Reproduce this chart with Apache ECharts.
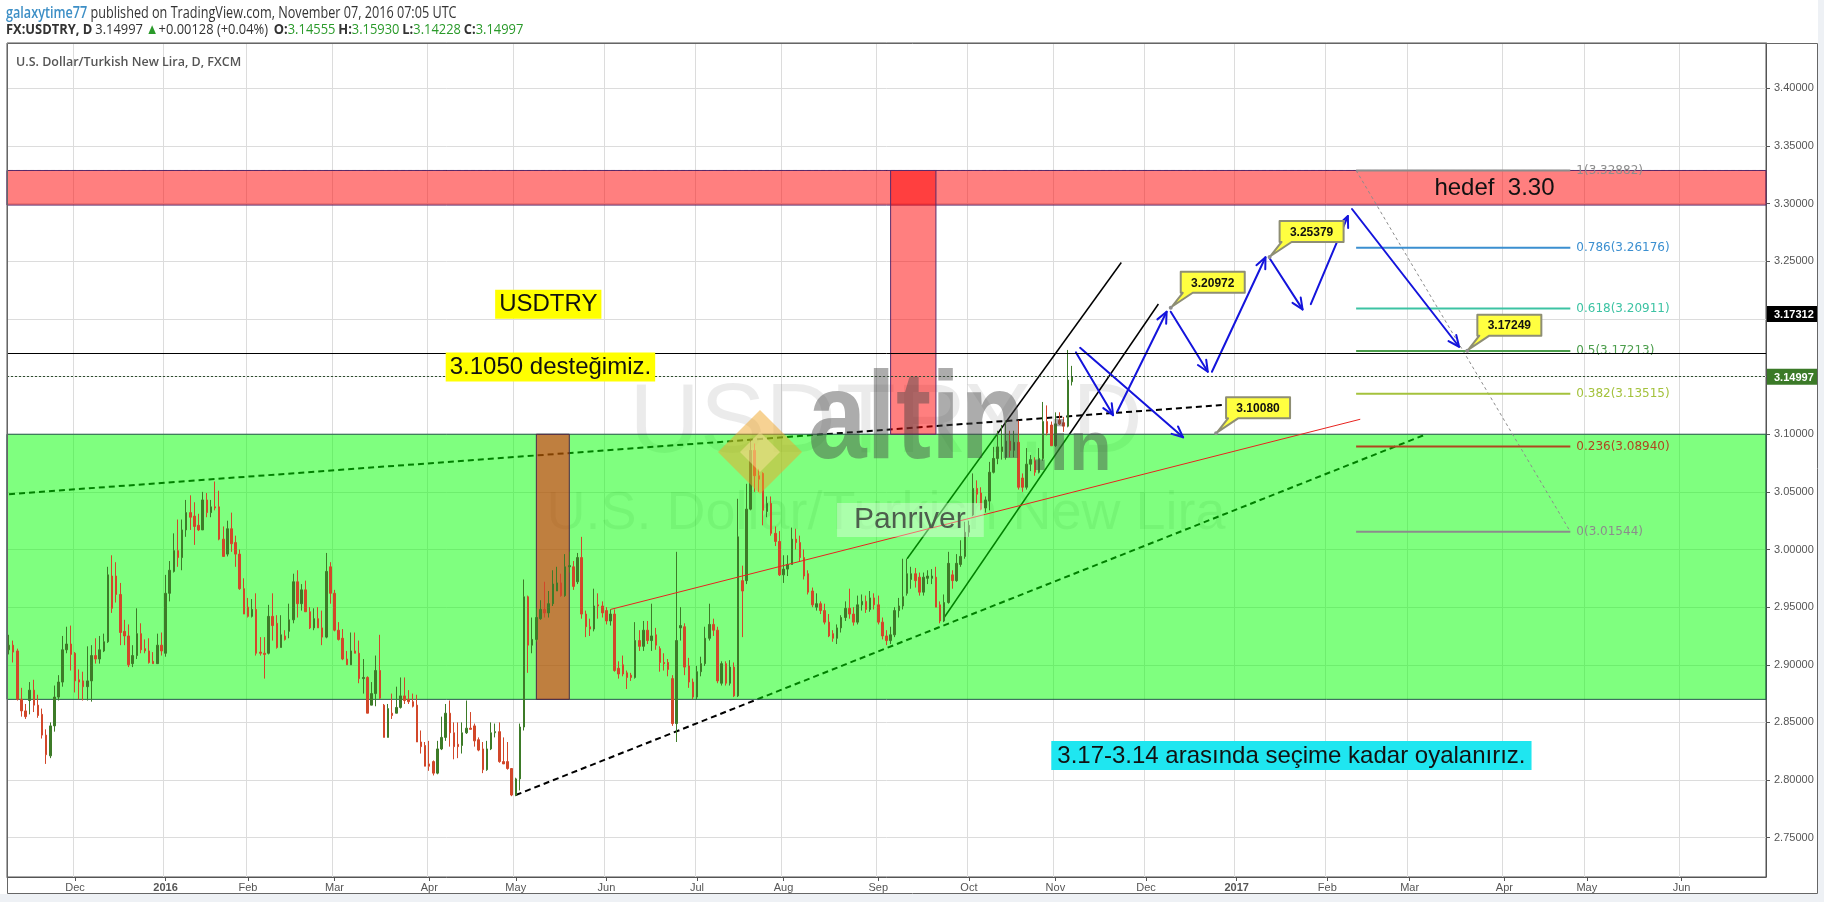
<!DOCTYPE html>
<html lang="tr">
<head>
<meta charset="utf-8">
<title>FX:USDTRY, D</title>
<script src="https://cdn.jsdelivr.net/npm/echarts@6/dist/echarts.min.js"></script>
<style>
  html, body { margin: 0; padding: 0; background: #ffffff; }
  #chart { width: 1824px; height: 902px; }
</style>
</head>
<body>
<div id="chart"></div>
<script>
// ---------- trading calendar: FXCM daily sessions (weekdays, two closed days) ----------
const FIRST_SESSION = '2015-11-09';
const LAST_SESSION = '2017-06-29';
const CLOSED_SESSIONS = ['2015-12-25', '2016-01-01'];
const MONTHS = ['Jan', 'Feb', 'Mar', 'Apr', 'May', 'Jun', 'Jul', 'Aug', 'Sep', 'Oct', 'Nov', 'Dec'];

// ---------- FX:USDTRY daily candles, one value per session starting 2015-11-09 ----------
const opens = [
  2.913, 2.917, 2.912, 2.870, 2.860, 2.869, 2.878, 2.865, 2.857, 2.839, 2.821, 2.847, 2.872, 2.885, 2.913, 2.918,
  2.910, 2.887, 2.886, 2.881, 2.886, 2.908, 2.905, 2.912, 2.920, 2.977, 2.977, 2.961, 2.929, 2.925, 2.901, 2.908,
  2.927, 2.914, 2.912, 2.903, 2.901, 2.917, 2.910, 2.962, 2.981, 2.999, 2.993, 3.017, 3.032, 3.029, 3.021, 3.017,
  3.043, 3.032, 3.037, 3.037, 3.009, 2.996, 3.018, 3.006, 2.996, 2.966, 2.950, 2.942, 2.948, 2.911, 2.910, 2.910,
  2.942, 2.936, 2.915, 2.925, 2.929, 2.939, 2.972, 2.953, 2.965, 2.946, 2.932, 2.940, 2.932, 2.924, 2.985, 2.962,
  2.930, 2.923, 2.905, 2.900, 2.912, 2.910, 2.888, 2.889, 2.865, 2.875, 2.895, 2.865, 2.837, 2.858, 2.858, 2.863,
  2.873, 2.870, 2.868, 2.865, 2.833, 2.830, 2.814, 2.816, 2.806, 2.827, 2.837, 2.858, 2.841, 2.831, 2.830, 2.841,
  2.845, 2.847, 2.835, 2.827, 2.809, 2.827, 2.841, 2.842, 2.816, 2.816, 2.810, 2.787, 2.801, 2.846, 2.959, 2.917,
  2.922, 2.940, 2.948, 2.945, 2.953, 2.964, 2.971, 2.960, 2.985, 2.985, 2.972, 2.993, 2.944, 2.933, 2.931, 2.952,
  2.951, 2.947, 2.938, 2.944, 2.897, 2.900, 2.893, 2.891, 2.889, 2.921, 2.916, 2.930, 2.921, 2.926, 2.914, 2.902,
  2.902, 2.888, 2.849, 2.932, 2.933, 2.899, 2.885, 2.872, 2.894, 2.901, 2.923, 2.935, 2.930, 2.884, 2.901, 2.884,
  2.898, 2.873, 2.973, 2.973, 3.035, 3.086, 3.064, 3.066, 3.033, 3.040, 3.014, 3.007, 2.978, 2.983, 2.987, 3.009,
  3.006, 2.993, 2.979, 2.964, 2.950, 2.953, 2.947, 2.937, 2.927, 2.923, 2.932, 2.941, 2.949, 2.944, 2.937, 2.952,
  2.955, 2.948, 2.958, 2.952, 2.937, 2.925, 2.921, 2.926, 2.947, 2.951, 2.962, 2.974, 2.979, 2.976, 2.963, 2.975,
  2.975, 2.976, 2.952, 2.938, 2.954, 2.978, 2.973, 2.987, 2.994, 3.015, 3.030, 3.053, 3.049, 3.036, 3.042, 3.067,
  3.079, 3.085, 3.080, 3.094, 3.086, 3.093, 3.062, 3.054, 3.074, 3.077, 3.067, 3.079, 3.111, 3.108, 3.090, 3.112,
  3.110, 3.107, 3.14555
];
const closes = [
  2.917, 2.911, 2.870, 2.860, 2.855, 2.878, 2.865, 2.856, 2.839, 2.822, 2.847, 2.872, 2.885, 2.913, 2.918, 2.909,
  2.886, 2.885, 2.881, 2.886, 2.908, 2.905, 2.913, 2.920, 2.978, 2.949, 2.961, 2.928, 2.925, 2.900, 2.908, 2.927,
  2.913, 2.912, 2.902, 2.901, 2.917, 2.912, 2.962, 2.982, 2.999, 2.993, 3.017, 3.032, 3.028, 3.020, 3.017, 3.043,
  3.032, 3.037, 3.036, 3.009, 2.994, 3.018, 3.005, 2.996, 2.966, 2.944, 2.942, 2.948, 2.910, 2.910, 2.909, 2.942,
  2.934, 2.915, 2.926, 2.922, 2.939, 2.972, 2.953, 2.965, 2.946, 2.932, 2.940, 2.932, 2.924, 2.981, 2.962, 2.930,
  2.922, 2.905, 2.900, 2.912, 2.910, 2.888, 2.889, 2.858, 2.875, 2.895, 2.871, 2.837, 2.862, 2.856, 2.863, 2.873,
  2.869, 2.868, 2.864, 2.833, 2.829, 2.812, 2.812, 2.806, 2.827, 2.837, 2.858, 2.841, 2.829, 2.829, 2.841, 2.845,
  2.844, 2.834, 2.826, 2.809, 2.827, 2.841, 2.842, 2.816, 2.814, 2.810, 2.787, 2.801, 2.846, 2.959, 2.917, 2.922,
  2.941, 2.948, 2.945, 2.953, 2.970, 2.971, 2.960, 2.985, 2.986, 2.968, 2.993, 2.944, 2.933, 2.931, 2.951, 2.951,
  2.945, 2.938, 2.944, 2.895, 2.892, 2.892, 2.889, 2.889, 2.921, 2.916, 2.930, 2.921, 2.925, 2.917, 2.902, 2.901,
  2.896, 2.849, 2.921, 2.934, 2.898, 2.885, 2.872, 2.894, 2.901, 2.923, 2.935, 2.930, 2.886, 2.901, 2.884, 2.898,
  2.873, 3.011, 2.964, 3.035, 3.086, 3.064, 3.061, 3.034, 3.040, 3.014, 3.007, 2.978, 2.983, 2.987, 3.009, 3.006,
  2.993, 2.977, 2.963, 2.952, 2.953, 2.947, 2.937, 2.925, 2.923, 2.932, 2.941, 2.949, 2.944, 2.937, 2.952, 2.955,
  2.948, 2.958, 2.952, 2.937, 2.925, 2.921, 2.926, 2.947, 2.951, 2.959, 2.979, 2.979, 2.973, 2.963, 2.976, 2.977,
  2.977, 2.950, 2.938, 2.954, 2.988, 2.973, 2.988, 2.994, 3.015, 3.021, 3.053, 3.048, 3.035, 3.043, 3.067, 3.079,
  3.089, 3.089, 3.094, 3.086, 3.093, 3.054, 3.054, 3.074, 3.078, 3.067, 3.079, 3.111, 3.101, 3.090, 3.109, 3.109,
  3.107, 3.147, 3.14997
];
const lows = [
  2.909, 2.902, 2.869, 2.855, 2.853, 2.857, 2.859, 2.854, 2.836, 2.814, 2.819, 2.842, 2.869, 2.881, 2.910, 2.895,
  2.876, 2.870, 2.869, 2.869, 2.868, 2.901, 2.901, 2.911, 2.919, 2.945, 2.954, 2.917, 2.917, 2.898, 2.898, 2.905,
  2.910, 2.910, 2.901, 2.901, 2.901, 2.908, 2.907, 2.955, 2.980, 2.985, 2.982, 3.011, 3.017, 3.004, 3.016, 3.017,
  3.028, 3.028, 3.034, 3.008, 2.994, 2.994, 2.998, 2.985, 2.965, 2.944, 2.941, 2.941, 2.908, 2.908, 2.888, 2.909,
  2.921, 2.914, 2.915, 2.921, 2.923, 2.936, 2.941, 2.947, 2.946, 2.931, 2.930, 2.932, 2.917, 2.923, 2.953, 2.929,
  2.921, 2.904, 2.900, 2.900, 2.910, 2.884, 2.875, 2.858, 2.865, 2.864, 2.870, 2.837, 2.837, 2.853, 2.858, 2.862,
  2.866, 2.866, 2.863, 2.833, 2.823, 2.812, 2.808, 2.804, 2.805, 2.826, 2.834, 2.829, 2.818, 2.819, 2.823, 2.840,
  2.844, 2.829, 2.825, 2.806, 2.808, 2.826, 2.837, 2.815, 2.814, 2.809, 2.786, 2.786, 2.791, 2.843, 2.893, 2.910,
  2.920, 2.939, 2.941, 2.941, 2.951, 2.964, 2.959, 2.959, 2.980, 2.965, 2.970, 2.940, 2.924, 2.925, 2.929, 2.940,
  2.941, 2.935, 2.934, 2.894, 2.888, 2.890, 2.879, 2.886, 2.888, 2.912, 2.912, 2.918, 2.912, 2.913, 2.894, 2.895,
  2.890, 2.847, 2.833, 2.921, 2.891, 2.880, 2.870, 2.870, 2.890, 2.899, 2.921, 2.925, 2.884, 2.882, 2.882, 2.882,
  2.872, 2.872, 2.924, 2.970, 3.034, 3.050, 3.050, 3.021, 3.028, 3.012, 3.003, 2.977, 2.971, 2.977, 2.987, 3.000,
  2.990, 2.974, 2.961, 2.950, 2.947, 2.944, 2.935, 2.924, 2.920, 2.918, 2.928, 2.938, 2.940, 2.934, 2.935, 2.947,
  2.945, 2.946, 2.948, 2.935, 2.922, 2.917, 2.918, 2.924, 2.941, 2.948, 2.960, 2.966, 2.967, 2.960, 2.960, 2.970,
  2.970, 2.950, 2.936, 2.937, 2.953, 2.966, 2.972, 2.985, 2.992, 3.011, 3.029, 3.040, 3.034, 3.032, 3.034, 3.066,
  3.074, 3.078, 3.078, 3.080, 3.080, 3.052, 3.050, 3.052, 3.068, 3.064, 3.066, 3.077, 3.099, 3.090, 3.089, 3.108,
  3.102, 3.106, 3.14228
];
const highs = [
  2.926, 2.921, 2.914, 2.880, 2.866, 2.885, 2.887, 2.874, 2.862, 2.844, 2.850, 2.882, 2.891, 2.925, 2.933, 2.934,
  2.911, 2.896, 2.894, 2.916, 2.917, 2.923, 2.925, 2.927, 2.985, 2.995, 2.989, 2.971, 2.939, 2.935, 2.917, 2.949,
  2.936, 2.922, 2.923, 2.911, 2.927, 2.928, 2.978, 2.990, 3.014, 3.026, 3.026, 3.043, 3.047, 3.041, 3.031, 3.050,
  3.049, 3.043, 3.059, 3.051, 3.020, 3.025, 3.032, 3.012, 3.000, 2.975, 2.958, 2.957, 2.962, 2.924, 2.924, 2.952,
  2.962, 2.943, 2.943, 2.930, 2.953, 2.979, 2.982, 2.970, 2.973, 2.950, 2.949, 2.950, 2.947, 2.997, 2.989, 2.965,
  2.937, 2.931, 2.912, 2.928, 2.928, 2.921, 2.905, 2.890, 2.885, 2.908, 2.926, 2.866, 2.866, 2.875, 2.881, 2.889,
  2.889, 2.878, 2.875, 2.874, 2.843, 2.833, 2.834, 2.817, 2.834, 2.855, 2.866, 2.869, 2.850, 2.850, 2.850, 2.869,
  2.859, 2.849, 2.837, 2.833, 2.834, 2.850, 2.849, 2.850, 2.837, 2.833, 2.810, 2.802, 2.849, 2.974, 2.960, 2.941,
  2.949, 2.956, 2.972, 2.964, 2.982, 2.985, 2.979, 2.996, 2.998, 2.990, 2.997, 3.011, 2.947, 2.940, 2.966, 2.962,
  2.955, 2.950, 2.948, 2.948, 2.903, 2.908, 2.895, 2.893, 2.937, 2.930, 2.938, 2.938, 2.953, 2.932, 2.916, 2.910,
  2.905, 2.891, 2.998, 2.950, 2.936, 2.906, 2.888, 2.899, 2.907, 2.933, 2.953, 2.940, 2.933, 2.903, 2.903, 2.904,
  2.902, 3.044, 2.986, 3.057, 3.096, 3.092, 3.070, 3.067, 3.046, 3.046, 3.020, 3.016, 2.995, 2.995, 3.019, 3.018,
  3.012, 3.000, 2.982, 2.967, 2.962, 2.955, 2.953, 2.944, 2.930, 2.935, 2.943, 2.955, 2.966, 2.950, 2.960, 2.961,
  2.960, 2.964, 2.962, 2.960, 2.941, 2.930, 2.933, 2.950, 2.958, 2.992, 2.992, 2.985, 2.984, 2.980, 2.980, 2.982,
  2.983, 2.985, 2.955, 2.961, 2.998, 2.982, 2.996, 3.008, 3.024, 3.025, 3.066, 3.060, 3.054, 3.046, 3.076, 3.089,
  3.103, 3.108, 3.112, 3.103, 3.103, 3.112, 3.066, 3.088, 3.082, 3.080, 3.088, 3.128, 3.125, 3.111, 3.119, 3.119,
  3.115, 3.17312, 3.15930
];

// ---------- price scale of the pane ----------
const PRICE_MIN = 2.7159;
const PRICE_MAX = 3.4394;
const LAST_PRICE = 3.14997;
const HIGH_LINE = 3.17312;

// ---------- drawings: boxes [first session, last session, low price, high price] ----------
const targetBand = ['2015-11-09', '2017-06-29', 3.2988, 3.3288];
const rangeBand = ['2015-11-09', '2017-06-29', 2.8700, 3.1000];
const septemberBox = ['2016-09-06', '2016-09-21', 3.1000, 3.3288];
const mayBox = ['2016-05-09', '2016-05-19', 2.8700, 3.1000];

// ---------- drawings: trend lines [[session, price], [session, price]] ----------
const upperTrend = [['2015-11-09', 3.048], ['2016-12-30', 3.126]];
const lowerTrend = [['2016-05-02', 2.787], ['2017-03-07', 3.100]];
const channelTop = [['2016-09-12', 2.992], ['2016-11-23', 3.249]];
const channelBottom = [['2016-09-23', 2.941], ['2016-12-06', 3.213]];
const targetTop = [['2015-11-09', 3.3288], ['2017-06-29', 3.3288]];
const juneTrend = [['2016-06-02', 2.948], ['2017-02-13', 3.113]];

// ---------- drawings: projected path, arrows [from session, price, to session, price] ----------
const pathArrows = [
  ['2016-11-09', 3.1750, '2016-12-14', 3.0973],
  ['2016-11-08', 3.1710, '2016-11-21', 3.1166],
  ['2016-11-22', 3.1195, '2016-12-08', 3.2063],
  ['2016-12-09', 3.2063, '2016-12-22', 3.1542],
  ['2016-12-23', 3.1542, '2017-01-11', 3.2535],
  ['2017-01-12', 3.2526, '2017-01-24', 3.2083],
  ['2017-01-26', 3.2129, '2017-02-08', 3.2893],
  ['2017-02-09', 3.2954, '2017-03-17', 3.1759]
];

// ---------- drawings: price callouts [session, price] ----------
const callouts = [
  ['2016-12-09', 3.20972],
  ['2017-01-12', 3.25379],
  ['2016-12-26', 3.10080],
  ['2017-03-21', 3.17249]
];

// ---------- drawings: fibonacci retracement ----------
const FIB_FROM = '2017-02-10';
const FIB_TO = '2017-04-25';
const fibLevels = [1, 0.786, 0.618, 0.5, 0.382, 0.236, 0];
const fibPrices = [3.32882, 3.26176, 3.20911, 3.17213, 3.13515, 3.08940, 3.01544];

// ---------- drawings: text notes [session, price] ----------
const noteTexts = ['USDTRY', '3.1050 desteğimiz.', 'Panriver', 'hedef  3.30', '3.17-3.14 arasında seçime kadar oyalanırız.'];
const noteAnchors = [
  ['2016-04-25', 3.2254],
  ['2016-04-07', 3.1709],
  ['2016-08-18', 3.0403],
  ['2017-03-09', 3.3240],
  ['2016-10-31', 2.8338]
];

// ---------- styling ----------
const UP = '#3d7b28';
const DOWN = '#d2472a';
const AXIS_FONT = '"Liberation Sans", Arial, sans-serif';
const UI_FONT = '"Open Sans", "Liberation Sans", Arial, sans-serif';
const fibColors = ['#8c8c8c', '#3b8fd0', '#3cc3a3', '#4c9e4c', '#a4c23c', '#b0461f', '#8c8c8c'];
const noteStyles = [
  { font: '24px ' + AXIS_FONT, fill: '#111', bg: '#ffff00', pad: [3, 4, 2, 4] },
  { font: '24px ' + AXIS_FONT, fill: '#111', bg: '#ffff00', pad: [3, 4, 2, 4] },
  { font: '30px ' + AXIS_FONT, fill: '#4d5e4d', bg: 'rgba(255,255,255,0.35)', pad: [2, 18, 2, 17] },
  { font: '24px ' + AXIS_FONT, fill: '#111', bg: null, pad: 0 },
  { font: '24px ' + AXIS_FONT, fill: '#111', bg: '#1fe6f0', pad: [3, 6, 2, 6] }
];
const TAG_COLORS = ['#000000', '#3b7a28'];
const TAG_SHIFT = [-36, 0];

// ---------- derived ----------
const dates = (function () {
  const out = [];
  const d = new Date(FIRST_SESSION + 'T00:00:00Z');
  const end = new Date(LAST_SESSION + 'T00:00:00Z');
  while (d <= end) {
    const wd = d.getUTCDay();
    const s = d.toISOString().slice(0, 10);
    if (wd !== 0 && wd !== 6 && CLOSED_SESSIONS.indexOf(s) < 0) out.push(s);
    d.setUTCDate(d.getUTCDate() + 1);
  }
  return out;
})();
const bar = s => dates.indexOf(s);
const isMonthStart = i => i > 0 && dates[i].slice(0, 7) !== dates[i - 1].slice(0, 7);
const candles = opens.map((o, i) => [o, closes[i], lows[i], highs[i]]);
const line = pts => pts.map(p => [bar(p[0]), p[1]]);
const boxItem = b => [bar(b[0]), b[2], bar(b[1]), b[3]];

function boxSeries(name, boxes, fill, stroke, fullWidth) {
  return {
    type: 'custom', name, z: 2, silent: true, clip: false,
    data: boxes.map(boxItem),
    encode: { x: [0, 2], y: [1, 3] },
    renderItem(params, api) {
      const a = api.coord([api.value(0), api.value(3)]);
      const b = api.coord([api.value(2), api.value(1)]);
      let x1 = a[0], x2 = b[0];
      if (fullWidth) {
        x1 = params.coordSys.x;
        x2 = params.coordSys.x + params.coordSys.width;
      }
      return {
        type: 'rect',
        shape: { x: x1, y: a[1], width: x2 - x1, height: b[1] - a[1] },
        style: { fill, stroke, lineWidth: 1 }
      };
    }
  };
}

function lineSeries(name, pts, color, width, dash, z) {
  return {
    type: 'line', name, z, silent: true, symbol: 'none', animation: false,
    data: line(pts),
    lineStyle: { color, width, type: dash || 'solid' }
  };
}

const option = {
  animation: false,
  backgroundColor: '#ffffff',
  grid: { left: 7, right: 58, top: 43, bottom: 25, show: true, borderColor: '#555', borderWidth: 1, backgroundColor: '#ffffff' },
  xAxis: {
    type: 'category', data: dates, boundaryGap: true,
    axisLine: { show: true, lineStyle: { color: '#555' } },
    axisTick: { show: true, alignWithLabel: true, length: 4, interval: isMonthStart, lineStyle: { color: '#555' } },
    axisLabel: {
      interval: isMonthStart, margin: 5, color: '#555', fontSize: 11, fontFamily: AXIS_FONT,
      formatter: v => (v.slice(5, 7) === '01' ? '{yr|' + v.slice(0, 4) + '}' : MONTHS[+v.slice(5, 7) - 1]),
      rich: { yr: { fontWeight: 'bold', color: '#555', fontSize: 11, fontFamily: AXIS_FONT } }
    },
    splitLine: { show: true, interval: isMonthStart, lineStyle: { color: '#dcdcdc' } }
  },
  yAxis: {
    type: 'value', position: 'right', min: PRICE_MIN, max: PRICE_MAX,
    splitNumber: 14, minInterval: 0.05, maxInterval: 0.05,
    axisLine: { show: true, lineStyle: { color: '#555' } },
    axisTick: { show: true, length: 4, lineStyle: { color: '#555' } },
    axisLabel: {
      margin: 8, color: '#555', fontSize: 11, fontFamily: AXIS_FONT, showMinLabel: false, showMaxLabel: false,
      formatter: v => (Math.abs(v * 20 - Math.round(v * 20)) < 1e-6 ? v.toFixed(5) : '')
    },
    splitLine: { show: true, lineStyle: { color: '#dcdcdc' } }
  },
  series: [
    // lines drawn beneath the shaded boxes
    lineSeries('upperTrend', upperTrend, '#000', 2, [6, 4], 1),
    lineSeries('lowerTrend', lowerTrend, '#000', 2, [6, 4], 1),
    lineSeries('channelTop', channelTop, '#000', 1.5, null, 1),
    lineSeries('channelBottom', channelBottom, '#000', 1.5, null, 1),
    lineSeries('targetTop', targetTop, '#000', 1, [4, 3], 1),
    // shaded boxes
    boxSeries('targetBand', [targetBand], 'rgba(255,0,0,0.5)', '#5a2a6a', true),
    boxSeries('rangeBand', [rangeBand], 'rgba(0,255,0,0.5)', '#24584a', true),
    boxSeries('septemberBox', [septemberBox], 'rgba(255,0,0,0.5)', '#5a2a6a', false),
    boxSeries('mayBox', [mayBox], 'rgba(255,0,0,0.5)', '#4a2a4a', false),
    // candles
    {
      type: 'candlestick', name: 'USDTRY', z: 3, barWidth: 2,
      data: candles,
      itemStyle: { color: UP, color0: DOWN, borderColor: UP, borderColor0: DOWN, borderWidth: 1 },
      markLine: {
        silent: true, symbol: 'none', animation: false, label: { show: false },
        data: [
          { yAxis: HIGH_LINE, lineStyle: { color: '#000', width: 1, type: 'solid' } },
          { yAxis: LAST_PRICE, lineStyle: { color: '#2f4f2f', width: 1, type: [2, 2] } }
        ]
      }
    },
    lineSeries('juneTrend', juneTrend, '#e8231f', 1, null, 4),
    // fibonacci retracement
    {
      type: 'custom', name: 'fib', z: 4, silent: true, clip: false,
      data: fibPrices.map((p, k) => [bar(FIB_FROM), p, bar(FIB_TO), fibLevels[k]]),
      encode: { x: [0, 2], y: 1 },
      renderItem(params, api) {
        const k = params.dataIndex;
        const a = api.coord([api.value(0), api.value(1)]);
        const b = api.coord([api.value(2), api.value(1)]);
        const col = fibColors[k];
        const children = [
          { type: 'line', shape: { x1: a[0], y1: a[1], x2: b[0], y2: b[1] }, style: { stroke: col, lineWidth: 2 } },
          {
            type: 'text', x: b[0] + 6, y: b[1],
            style: { text: fibLevels[k] + '(' + fibPrices[k].toFixed(5) + ')', fill: col, font: '12px "DejaVu Sans", Verdana, sans-serif', verticalAlign: 'middle', align: 'left' }
          }
        ];
        if (k === 0) {
          const end = api.coord([api.value(2), fibPrices[fibPrices.length - 1]]);
          children.push({ type: 'line', shape: { x1: a[0], y1: a[1], x2: end[0], y2: end[1] }, style: { stroke: '#8c8c8c', lineWidth: 1, lineDash: [3, 3] } });
        }
        return { type: 'group', children };
      }
    },
    // projected path
    {
      type: 'custom', name: 'path', z: 4, silent: true, clip: false,
      data: pathArrows.map(a => [bar(a[0]), a[1], bar(a[2]), a[3]]),
      encode: { x: [0, 2], y: [1, 3] },
      renderItem(params, api) {
        const p1 = api.coord([api.value(0), api.value(1)]);
        const p2 = api.coord([api.value(2), api.value(3)]);
        const ang = Math.atan2(p2[1] - p1[1], p2[0] - p1[0]);
        const L = 12, s = 0.42;
        const h1 = [p2[0] - L * Math.cos(ang - s), p2[1] - L * Math.sin(ang - s)];
        const h2 = [p2[0] - L * Math.cos(ang + s), p2[1] - L * Math.sin(ang + s)];
        const st = { stroke: '#1414dc', lineWidth: 2, fill: null, lineCap: 'round', lineJoin: 'round' };
        return {
          type: 'group', children: [
            { type: 'line', shape: { x1: p1[0], y1: p1[1], x2: p2[0], y2: p2[1] }, style: st },
            { type: 'polyline', shape: { points: [h1, p2, h2] }, style: st }
          ]
        };
      }
    },
    // callouts
    {
      type: 'custom', name: 'callouts', z: 5, silent: true, clip: false,
      data: callouts.map(c => [bar(c[0]), c[1]]),
      encode: { x: 0, y: 1 },
      renderItem(params, api) {
        const a = api.coord([api.value(0), api.value(1)]);
        const bx = a[0] + 10, by = a[1] - 36, w = 64, h = 21;
        return {
          type: 'group', children: [
            {
              type: 'polygon',
              shape: { points: [[bx, by], [bx + w, by], [bx + w, by + h], [bx + 12, by + h], [a[0] + 1, a[1] - 1], [bx + 2, by + h], [bx, by + h]] },
              style: { fill: '#ffff40', stroke: '#8e8e74', lineWidth: 2, lineJoin: 'round' }
            },
            { type: 'circle', shape: { cx: a[0], cy: a[1], r: 2 }, style: { fill: '#8e8e8e' } },
            {
              type: 'text', x: bx + w / 2, y: by + h / 2 + 1,
              style: { text: api.value(1).toFixed(5), fill: '#111', font: 'bold 12px ' + AXIS_FONT, align: 'center', verticalAlign: 'middle' }
            }
          ]
        };
      }
    },
    // text notes
    {
      type: 'custom', name: 'notes', z: 5, silent: true, clip: false,
      data: noteAnchors.map(n => [bar(n[0]), n[1]]),
      encode: { x: 0, y: 1 },
      renderItem(params, api) {
        const k = params.dataIndex;
        const a = api.coord([api.value(0), api.value(1)]);
        const ns = noteStyles[k];
        return {
          type: 'text', x: a[0], y: a[1],
          style: { text: noteTexts[k], font: ns.font, fill: ns.fill, backgroundColor: ns.bg, padding: ns.pad, align: 'left', verticalAlign: 'top' }
        };
      }
    },
    // price tags on the scale
    {
      type: 'custom', name: 'tags', z: 6, silent: true, clip: false,
      data: [[0, HIGH_LINE], [0, LAST_PRICE]],
      encode: { x: 0, y: 1 },
      renderItem(params, api) {
        const k = params.dataIndex;
        const y = api.coord([0, api.value(1)])[1] + TAG_SHIFT[k];
        const x = params.coordSys.x + params.coordSys.width;
        return {
          type: 'group', children: [
            { type: 'rect', shape: { x: x + 1, y: y - 8, width: 50, height: 16 }, style: { fill: TAG_COLORS[k] } },
            { type: 'text', x: x + 8, y: y + 1, style: { text: api.value(1).toFixed(5), fill: '#fff', font: 'bold 11px ' + AXIS_FONT, verticalAlign: 'middle' } }
          ]
        };
      }
    }
  ],
  graphic: [
    // symbol watermark
    { type: 'text', z: 1, silent: true, x: 886, y: 425, style: { text: 'USDTRY, D', font: '98px ' + AXIS_FONT, fill: 'rgba(0,0,0,0.08)', align: 'center', verticalAlign: 'middle' } },
    { type: 'text', z: 1, silent: true, x: 886, y: 514, style: { text: 'U.S. Dollar/Turkish New Lira', font: '54px ' + AXIS_FONT, fill: 'rgba(0,0,0,0.08)', align: 'center', verticalAlign: 'middle' } },
    // altin.in mark
    { type: 'polygon', z: 20, silent: true, shape: { points: [[760, 410], [802, 452], [760, 494], [718, 452]] }, style: { fill: 'rgba(240,165,40,0.5)' } },
    { type: 'polygon', z: 20, silent: true, shape: { points: [[760, 432], [780, 452], [760, 472], [740, 452]] }, style: { fill: 'rgba(255,230,160,0.45)' } },
    { type: 'text', z: 20, silent: true, x: 808, y: 486, scaleX: 0.85, style: { text: 'altin', font: 'bold 124px ' + AXIS_FONT, fill: 'rgba(70,70,70,0.45)', verticalAlign: 'bottom' } },
    { type: 'text', z: 20, silent: true, x: 1030, y: 486, style: { text: '.in', font: 'bold 70px ' + AXIS_FONT, fill: 'rgba(70,70,70,0.45)', verticalAlign: 'bottom' } },
    // header
    {
      type: 'text', z: 30, silent: true, x: 6, y: 5, scaleX: 0.79,
      style: {
        text: '{u|galaxytime77}{t| published on TradingView.com, November 07, 2016 07:05 UTC}',
        rich: {
          u: { fill: '#3d8fc6', font: '600 16px ' + UI_FONT },
          t: { fill: '#333', font: '16px ' + UI_FONT }
        },
        verticalAlign: 'top'
      }
    },
    {
      type: 'text', z: 30, silent: true, x: 6, y: 22, scaleX: 0.86,
      style: {
        text: '{b|FX:USDTRY, D} {n|3.14997} {g|▲}{n|+0.00128 (+0.04%)}  {b|O:}{v|3.14555} {b|H:}{v|3.15930} {b|L:}{v|3.14228} {b|C:}{v|3.14997}',
        rich: {
          b: { fill: '#333', font: 'bold 15px ' + UI_FONT },
          n: { fill: '#333', font: '15px ' + UI_FONT },
          g: { fill: '#2a9a2a', font: '15px ' + UI_FONT },
          v: { fill: '#2a9a2a', font: '15px ' + UI_FONT }
        },
        verticalAlign: 'top'
      }
    },
    // pane title
    { type: 'text', z: 30, silent: true, x: 16, y: 56, scaleX: 0.96, style: { text: 'U.S. Dollar/Turkish New Lira, D, FXCM', fill: '#555', font: '600 13px ' + UI_FONT, verticalAlign: 'top' } },
    // frame and page margins
    { type: 'rect', z: 30, silent: true, shape: { x: 1818, y: 0, width: 6, height: 902 }, style: { fill: '#eef1f5' } },
    { type: 'rect', z: 30, silent: true, shape: { x: 0, y: 894, width: 1824, height: 8 }, style: { fill: '#eef1f5' } },
    { type: 'rect', z: 30, silent: true, shape: { x: 7.5, y: 43.5, width: 1810, height: 850 }, style: { fill: null, stroke: '#666', lineWidth: 1 } }
  ]
};

const chart = echarts.init(document.getElementById('chart'), null, { renderer: 'canvas', width: 1824, height: 902 });
chart.setOption(option);
</script>
</body>
</html>
